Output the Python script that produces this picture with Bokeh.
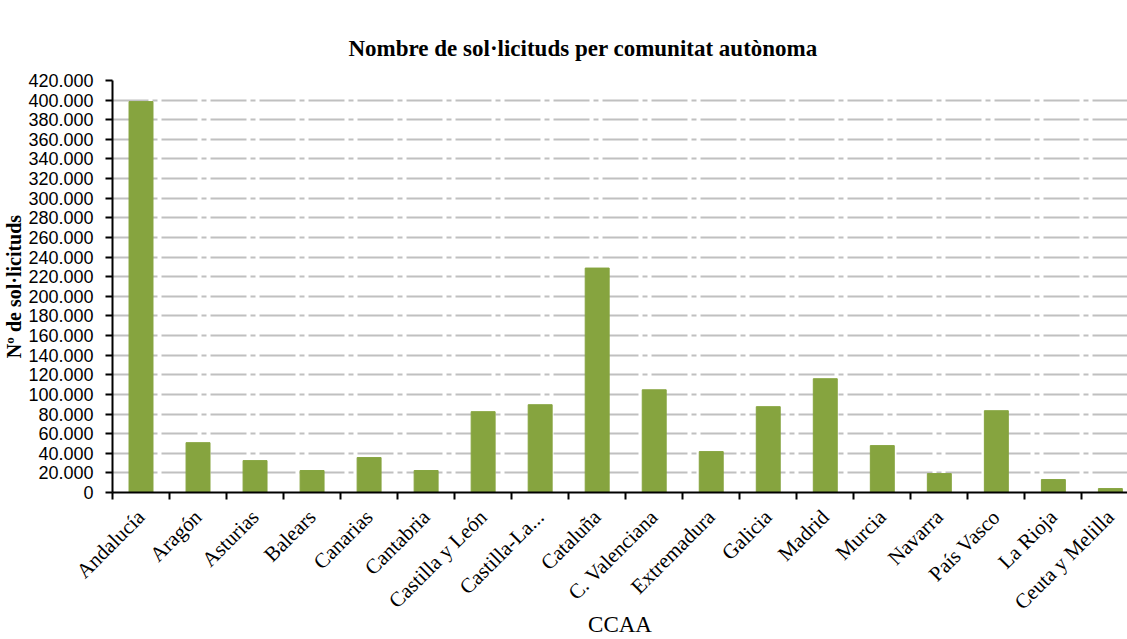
import math
from bokeh.plotting import figure
from bokeh.models import Range1d, LinearAxis, FixedTicker
from bokeh.embed import file_html
from bokeh.resources import INLINE

categories = ["Andalucía", "Aragón", "Asturias", "Balears", "Canarias", "Cantabria",
              "Castilla y León", "Castilla-La...", "Cataluña", "C. Valenciana",
              "Extremadura", "Galicia", "Madrid", "Murcia", "Navarra", "País Vasco",
              "La Rioja", "Ceuta y Melilla"]
solicituds = [398500, 50800, 32500, 22400, 35600, 22400, 82400, 89500, 228800,
              104700, 41700, 87500, 116000, 47800, 19300, 83400, 13200, 4000]
y_ticks = list(range(0, 420001, 20000))
y_labels = {t: f"{t:,}".replace(",", ".") for t in y_ticks}

title_text = "Nombre de sol·licituds per comunitat autònoma"
x_title = "CCAA"
y_title = "Nº de sol·licituds"

n = len(categories)
centers = [i + 0.5 for i in range(n)]
edges = list(range(n + 1))
x_labels = {c: name for c, name in zip(centers, categories)}

p = figure(width=1127, height=639,
           x_range=Range1d(0, n - 0.2), y_range=Range1d(0, 420000),
           x_axis_location=None, output_backend="svg", toolbar_location=None,
           min_border_left=112, min_border_right=0, min_border_top=80,
           min_border_bottom=146, background_fill_color="white",
           border_fill_color="white", outline_line_color=None)

p.vbar(x=centers, top=solicituds, width=0.42, color="#86A43F")

# title
p.title.text = title_text
p.title.align = "left"
p.title.offset = 236
p.title.standoff = 40
p.title.text_font = "Liberation Serif"
p.title.text_font_size = "23px"
p.title.text_font_style = "bold"
p.title.text_color = "black"

# y axis
p.yaxis.ticker = FixedTicker(ticks=y_ticks)
p.yaxis.major_label_overrides = y_labels
p.yaxis.major_label_text_font = "Liberation Sans"
p.yaxis.major_label_text_font_size = "18px"
p.yaxis.major_label_text_color = "black"
p.yaxis.axis_line_color = "black"
p.yaxis.axis_line_width = 2
p.yaxis.major_tick_out = 7
p.yaxis.major_tick_in = 0
p.yaxis.major_tick_line_width = 2
p.yaxis.major_tick_line_color = "black"
p.yaxis.minor_tick_line_color = None
p.yaxis.major_label_standoff = 12
p.yaxis.axis_label = y_title
p.yaxis.axis_label_text_font = "Liberation Serif"
p.yaxis.axis_label_text_font_size = "20px"
p.yaxis.axis_label_text_font_style = "bold"
p.yaxis.axis_label_text_color = "black"
p.yaxis.axis_label_standoff = 0

p.xgrid.grid_line_color = None
p.ygrid.ticker = FixedTicker(ticks=y_ticks)
p.ygrid.grid_line_color = "#c0c0c0"
p.ygrid.grid_line_width = 2
p.ygrid.grid_line_dash = "36 4 5 4"

# bottom axis: names at bar centres, tick marks at category boundaries
x_axis = LinearAxis(ticker=FixedTicker(ticks=centers, minor_ticks=edges),
                    major_label_overrides=x_labels,
                    major_label_orientation=math.pi / 4,
                    major_tick_line_color=None,
                    major_tick_out=0, major_tick_in=0,
                    minor_tick_out=7, minor_tick_in=0,
                    minor_tick_line_color="black", minor_tick_line_width=2,
                    axis_line_color="black", axis_line_width=2,
                    major_label_standoff=14,
                    major_label_text_font="Liberation Serif",
                    major_label_text_font_size="21px",
                    major_label_text_color="black",
                    axis_label=x_title,
                    axis_label_text_font="Liberation Serif",
                    axis_label_text_font_size="23px",
                    axis_label_text_font_style="normal",
                    axis_label_text_color="black",
                    axis_label_standoff=-14)
p.add_layout(x_axis, "below")

open("out.html", "w").write(file_html(p, INLINE))
